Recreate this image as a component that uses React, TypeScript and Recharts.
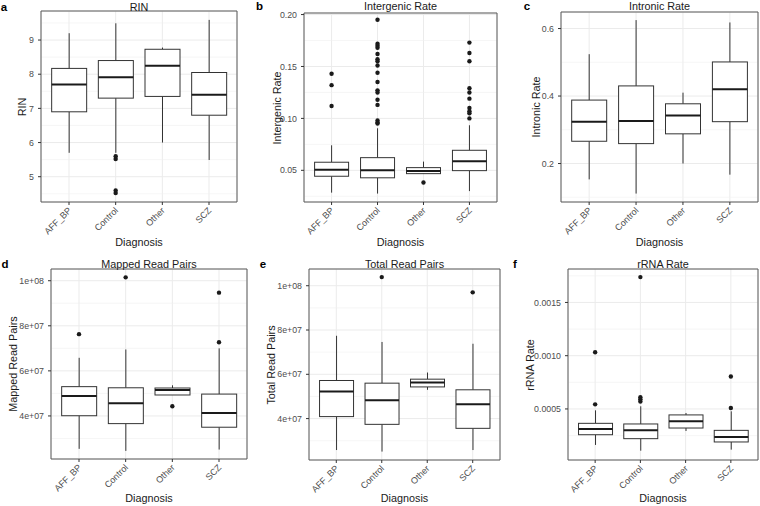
import React from 'react';
import { ComposedChart, Bar, Scatter, XAxis, YAxis, CartesianGrid, ReferenceArea } from 'recharts';

const FONT = '"Liberation Sans", Arial, Helvetica, sans-serif';

const diagnosis = ['AFF_BP', 'Control', 'Other', 'SCZ'];

// five numbers per group: lower whisker, Q1, median, Q3, upper whisker
const rinBox = [
  [5.7, 6.9, 7.7, 8.17, 9.2],
  [5.7, 7.3, 7.91, 8.4, 9.49],
  [6.0, 7.35, 8.25, 8.73, 8.78],
  [5.49, 6.8, 7.4, 8.05, 9.59],
];
const rinOut = [[], [5.6, 5.52, 4.6, 4.52], [], []];

const intergenicBox = [
  [0.0285, 0.0443, 0.0505, 0.0578, 0.0741],
  [0.0276, 0.0428, 0.05, 0.0622, 0.0905],
  [0.0465, 0.0468, 0.0494, 0.0526, 0.0584],
  [0.03, 0.0497, 0.0587, 0.0693, 0.0934],
];
const intergenicOut = [
  [0.143, 0.132, 0.112],
  [0.195, 0.172, 0.17, 0.168, 0.162, 0.157, 0.155, 0.151, 0.144, 0.135, 0.127, 0.125, 0.118, 0.113, 0.098, 0.096, 0.095],
  [0.0383],
  [0.173, 0.163, 0.155, 0.129, 0.125, 0.119, 0.11, 0.107, 0.105, 0.1],
];

const intronicBox = [
  [0.153, 0.266, 0.3235, 0.388, 0.524],
  [0.111, 0.259, 0.326, 0.43, 0.625],
  [0.2, 0.288, 0.342, 0.377, 0.41],
  [0.167, 0.324, 0.42, 0.501, 0.618],
];
const intronicOut = [[], [], [], []];

const mappedBox = [
  [2.54e7, 4.01e7, 4.89e7, 5.3e7, 6.58e7],
  [2.45e7, 3.66e7, 4.56e7, 5.25e7, 6.95e7],
  [4.93e7, 4.93e7, 5.15e7, 5.24e7, 5.36e7],
  [2.51e7, 3.5e7, 4.13e7, 4.97e7, 7.0e7],
];
const mappedOut = [[7.63e7], [1.015e8], [4.43e7], [7.27e7, 9.47e7]];

const totalBox = [
  [2.58e7, 4.09e7, 5.22e7, 5.72e7, 7.74e7],
  [2.51e7, 3.74e7, 4.83e7, 5.6e7, 7.46e7],
  [5.3e7, 5.43e7, 5.63e7, 5.78e7, 6.08e7],
  [2.58e7, 3.56e7, 4.65e7, 5.3e7, 7.38e7],
];
const totalOut = [[], [1.039e8], [], [9.7e7]];

const rrnaBox = [
  [0.000162, 0.000258, 0.000312, 0.000365, 0.000487],
  [0.000108, 0.000221, 0.000299, 0.000359, 0.000525],
  [0.000293, 0.000321, 0.000384, 0.000444, 0.000462],
  [0.000118, 0.00019, 0.000237, 0.000299, 0.000478],
];
const rrnaOut = [[0.000543, 0.001033], [0.00057, 0.00059, 0.00061, 0.001738], [], [0.000509, 0.000805]];

const sci = (v: number) => {
  const e = Math.floor(Math.log10(v));
  const m = v / Math.pow(10, e);
  return `${Math.round(m)}e+${String(e).padStart(2, '0')}`;
};

const panels = [
  {
    letter: 'a', title: 'RIN', yTitle: 'RIN', cellX: 0, cellY: 0, h: 250,
    l: 41, t: 11, r: 237, b: 202, titleY: 7, yTitleX: 21.7, xTitleY: 241.5,
    domain: [4.26, 9.85], ticks: [5, 6, 7, 8, 9], minor: [4.5, 5.5, 6.5, 7.5, 8.5, 9.5],
    fmt: (v: number) => String(v), box: rinBox, out: rinOut, letterX: 4,
  },
  {
    letter: 'b', title: 'Intergenic Rate', yTitle: 'Intergenic Rate', cellX: 250, cellY: 0, h: 250,
    l: 304, t: 13, r: 497, b: 202, titleY: 6, yTitleX: 276.7, xTitleY: 241.5,
    domain: [0.0195, 0.2015], ticks: [0.05, 0.1, 0.15, 0.2], minor: [0.025, 0.075, 0.125, 0.175],
    fmt: (v: number) => v.toFixed(2), box: intergenicBox, out: intergenicOut, letterX: 259.5,
  },
  {
    letter: 'c', title: 'Intronic Rate', yTitle: 'Intronic Rate', cellX: 500, cellY: 0, h: 250,
    l: 561, t: 12, r: 758, b: 202, titleY: 6, yTitleX: 536, xTitleY: 241.5,
    domain: [0.086, 0.649], ticks: [0.2, 0.4, 0.6], minor: [0.1, 0.3, 0.5],
    fmt: (v: number) => v.toFixed(1), box: intronicBox, out: intronicOut, letterX: 527,
  },
  {
    letter: 'd', title: 'Mapped Read Pairs', yTitle: 'Mapped Read Pairs', cellX: 0, cellY: 250, h: 256,
    l: 51, t: 269, r: 247, b: 459, titleY: 264, yTitleX: 12.7, xTitleY: 498,
    domain: [2.09e7, 1.052e8], ticks: [4e7, 6e7, 8e7, 1e8], minor: [3e7, 5e7, 7e7, 9e7],
    fmt: sci, box: mappedBox, out: mappedOut, letterX: 5,
  },
  {
    letter: 'e', title: 'Total Read Pairs', yTitle: 'Total Read Pairs', cellX: 250, cellY: 250, h: 256,
    l: 309, t: 269, r: 500, b: 460, titleY: 264, yTitleX: 270.7, xTitleY: 498,
    domain: [2.13e7, 1.0755e8], ticks: [4e7, 6e7, 8e7, 1e8], minor: [3e7, 5e7, 7e7, 9e7],
    fmt: sci, box: totalBox, out: totalOut, letterX: 263,
  },
  {
    letter: 'f', title: 'rRNA Rate', yTitle: 'rRNA Rate', cellX: 500, cellY: 250, h: 256,
    l: 568, t: 269, r: 758, b: 460, titleY: 264, yTitleX: 530, xTitleY: 498,
    domain: [0.0000207, 0.001814], ticks: [0.0005, 0.001, 0.0015], minor: [0.00025, 0.00075, 0.00125, 0.00175],
    fmt: (v: number) => v.toFixed(4), box: rrnaBox, out: rrnaOut, letterX: 515,
  },
];

const BoxShape = (props: any) => {
  const { x, y, width, height, payload } = props;
  const { lo, q1, med, q3, hi } = payload;
  const yHi = y;
  const yLo = y + height;
  const py = (v: number) => yLo + ((v - lo) / (hi - lo)) * (yHi - yLo);
  const cx = x + width / 2;
  return (
    <g>
      <line x1={cx} x2={cx} y1={py(hi)} y2={py(q3)} stroke="#333" strokeWidth={1} />
      <line x1={cx} x2={cx} y1={py(q1)} y2={py(lo)} stroke="#333" strokeWidth={1} />
      <rect x={x} y={py(q3)} width={width} height={Math.max(py(q1) - py(q3), 0.5)} fill="#fff" stroke="#333" strokeWidth={1} />
      <line x1={x} x2={x + width} y1={py(med)} y2={py(med)} stroke="#1a1a1a" strokeWidth={2} />
    </g>
  );
};

const Dot = (props: any) => <circle cx={props.cx} cy={props.cy} r={2.2} fill="#1a1a1a" />;

const XTick = (props: any) => {
  const { x, y, payload } = props;
  const ax = x + 3;
  const ay = y + 4;
  return (
    <text x={ax} y={ay} transform={`rotate(-45 ${ax} ${ay})`} textAnchor="end" fontSize={9} fill="#4d4d4d" fontFamily={FONT}>
      {diagnosis[payload.value - 1]}
    </text>
  );
};

const textStyle = (cx: number, cy: number, size: number, extra: any = {}) => ({
  position: 'absolute' as const,
  left: cx,
  top: cy,
  transform: 'translate(-50%, -50%)',
  fontFamily: FONT,
  fontSize: size,
  color: '#1a1a1a',
  whiteSpace: 'nowrap' as const,
  lineHeight: 1,
  ...extra,
});

function Panel({ p }: { p: any }) {
  const rows = p.box.map((s: number[], i: number) => ({ x: i + 1, lo: s[0], q1: s[1], med: s[2], q3: s[3], hi: s[4] }));
  const dots = p.out.flatMap((arr: number[], i: number) => arr.map((v) => ({ x: i + 1, v })));
  const width = p.r - p.cellX + 1;
  const pw = p.r - p.l;
  const cx = (p.l + p.r) / 2;
  return (
    <>
      <div style={{ position: 'absolute', left: p.cellX, top: p.cellY }}>
        <ComposedChart
          width={width}
          height={p.h}
          data={rows}
          margin={{ top: p.t - p.cellY, right: 1, bottom: 0, left: 0 }}
        >
          <CartesianGrid stroke="#ebebeb" strokeWidth={1} />
          <CartesianGrid stroke="#f0f0f0" strokeWidth={0.6} vertical={false} horizontalValues={p.minor} />
          <XAxis
            type="number"
            dataKey="x"
            domain={[0.4, 4.6]}
            ticks={[1, 2, 3, 4]}
            allowDataOverflow
            axisLine={false}
            tickLine={{ stroke: '#333' }}
            tickSize={3}
            height={p.cellY + p.h - p.b}
            tick={<XTick />}
            interval={0}
          />
          <YAxis
            type="number"
            domain={p.domain}
            ticks={p.ticks}
            allowDataOverflow
            axisLine={false}
            tickLine={{ stroke: '#333' }}
            tickSize={3}
            tickMargin={4}
            width={p.l - p.cellX}
            tickFormatter={p.fmt}
            tick={{ fill: '#4d4d4d', fontSize: 8.8, fontFamily: FONT }}
            interval={0}
          />
          <Bar
            dataKey={(d: any) => [d.lo, d.hi]}
            barSize={Math.round((0.75 * pw) / 4.2)}
            shape={<BoxShape />}
            isAnimationActive={false}
          />
          <Scatter data={dots} dataKey="v" shape={<Dot />} isAnimationActive={false} />
          <ReferenceArea x1={0.4} x2={4.6} y1={p.domain[0]} y2={p.domain[1]} fill="none" fillOpacity={0} stroke="#5a5a5a" strokeWidth={1} strokeOpacity={1} />
        </ComposedChart>
      </div>
      <div style={textStyle(p.letterX, p.titleY + 1, 11.5, { fontWeight: 'bold', color: '#000' })}>{p.letter}</div>
      <div style={textStyle(cx, p.titleY, 10.8)}>{p.title}</div>
      <div style={textStyle(p.yTitleX, (p.t + p.b) / 2, 10.8, { transform: 'translate(-50%, -50%) rotate(-90deg)' })}>{p.yTitle}</div>
      <div style={textStyle(cx, p.xTitleY, 10.8)}>Diagnosis</div>
    </>
  );
}

export default function App() {
  return (
    <div style={{ position: 'absolute', left: 0, top: 0, width: 760, height: 506, background: '#fff', overflow: 'hidden' }}>
      {panels.map((p) => (
        <Panel key={p.letter} p={p} />
      ))}
    </div>
  );
}
